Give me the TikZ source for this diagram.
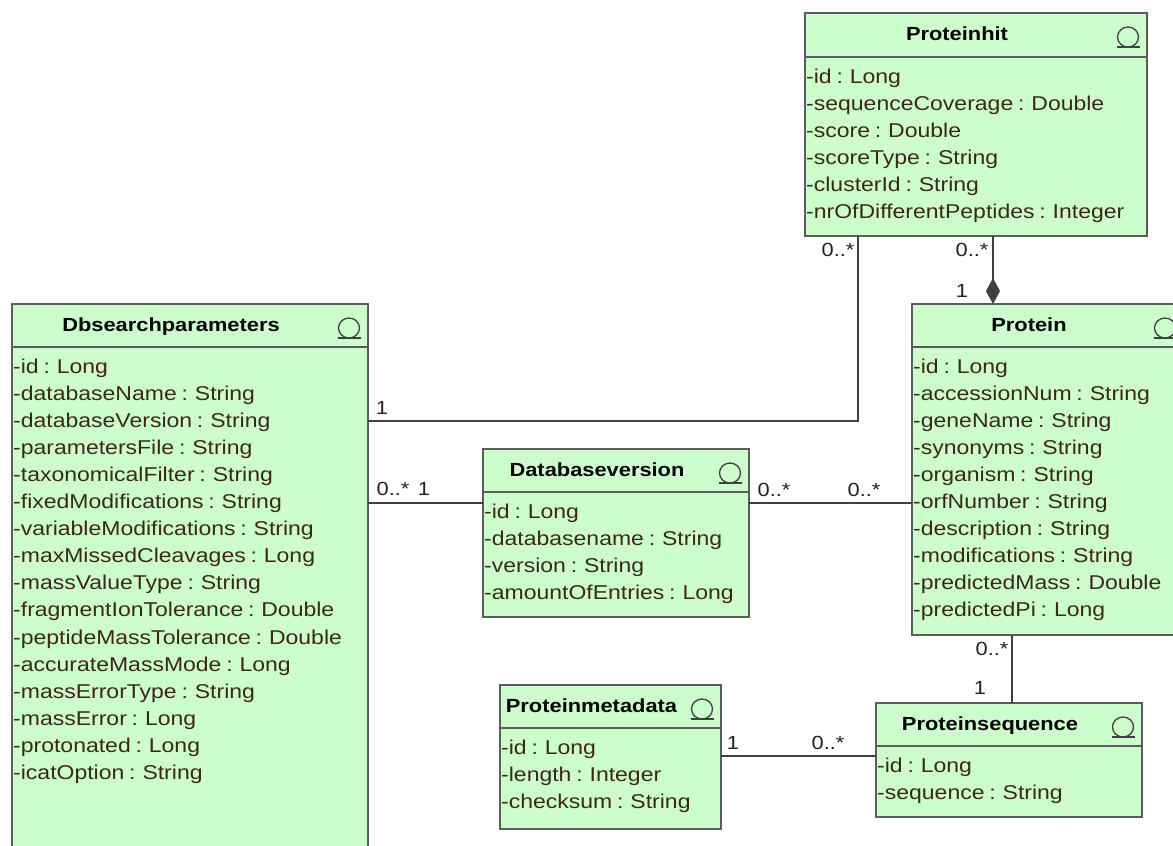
\documentclass[tikz,border=0pt]{standalone}
\usepackage{fontspec}
\setmainfont{Liberation Sans}[FakeStretch=1.15, WordSpace=0.75]
\usetikzlibrary{calc,arrows.meta}

\definecolor{umlfill}{HTML}{CCFFCC}
\definecolor{umlborder}{HTML}{5C5C5C}
\definecolor{umlline}{HTML}{404040}
\definecolor{umltext}{HTML}{3A2818}
\definecolor{multtext}{HTML}{222222}

\tikzset{
  classbox/.style={draw=umlborder, fill=umlfill, line width=1.8pt,
    inner sep=0pt, outer sep=0pt, anchor=north west},
  divider/.style={draw=umlborder, line width=1.6pt},
  classtitle/.style={font=\fontsize{19}{22}\selectfont\bfseries, text=black,
    anchor=base, inner sep=0pt},
  attr/.style={font=\fontsize{20}{24}\selectfont, text=umltext,
    anchor=base west, inner sep=0pt},
  mult/.style={font=\fontsize{19}{22}\selectfont, text=multtext, inner sep=0pt},
  assoc/.style={draw=umlline, line width=1.8pt},
  entityicon/.style={draw=umlline, line width=1.3pt},
}

% class box: name, left, top, width, height, header height, title
\newcommand\umlclass[7]{%
  \node[classbox, minimum width=#4pt, minimum height=#5pt] (#1) at (#2,#3) {};
  \draw[divider] ($(#1.north west)+(0,#6)$) -- ($(#1.north east)+(0,#6)$);
  \node[classtitle] (#1-title) at ($(#1.north west)+({(#4-38)/2},27)$) {#7};
  \coordinate (#1-icon) at ($(#1.north east)+(-19,24)$);
  \draw[entityicon] (#1-icon) ellipse[x radius=10.5pt, y radius=10pt];
  \draw[entityicon] ($(#1-icon)+(-11.5,10)$) -- ($(#1-icon)+(11.5,10)$);
}
% attribute list: name, header height, entries
\newcommand\umlattrs[3]{%
  \foreach \a [count=\i] in {#3} {
    \node[attr] (#1-a\i) at ($(#1.north west)+(1,{#2+26+27.1*(\i-1)})$) {\a};
  }
}

\begin{document}
\begin{tikzpicture}[x=1pt, y=-1pt]
  \useasboundingbox (0,0) rectangle (1173,846);
  \fill[white] (0,0) rectangle (1173,846);
  \clip (0,0) rectangle (1173,846);

  % classes
  \umlclass{ph}{805}{13}{342}{223}{44}{Proteinhit}
  \umlattrs{ph}{44}{-id : Long,-sequenceCoverage : Double,-score : Double,
    -scoreType : String,-clusterId : String,-nrOfDifferentPeptides : Integer}

  \umlclass{dbp}{12}{304}{356}{566}{43}{Dbsearchparameters}
  \umlattrs{dbp}{43}{-id : Long,-databaseName : String,-databaseVersion : String,
    -parametersFile : String,-taxonomicalFilter : String,-fixedModifications : String,
    -variableModifications : String,-maxMissedCleavages : Long,-massValueType : String,
    -fragmentIonTolerance : Double,-peptideMassTolerance : Double,-accurateMassMode : Long,
    -massErrorType : String,-massError : Long,-protonated : Long,-icatOption : String}

  \umlclass{dbv}{483}{449}{266}{168}{43}{Databaseversion}
  \umlattrs{dbv}{43}{-id : Long,-databasename : String,-version : String,
    -amountOfEntries : Long}

  \umlclass{prot}{912}{304}{272}{331}{43}{Protein}
  \umlattrs{prot}{43}{-id : Long,-accessionNum : String,-geneName : String,
    -synonyms : String,-organism : String,-orfNumber : String,-description : String,
    -modifications : String,-predictedMass : Double,-predictedPi : Long}

  \umlclass{pmd}{500}{685}{221}{144}{43}{Proteinmetadata}
  \umlattrs{pmd}{43}{-id : Long,-length : Integer,-checksum : String}

  \umlclass{pseq}{876}{703}{266}{114}{43}{Proteinsequence}
  \umlattrs{pseq}{43}{-id : Long,-sequence : String}

  % connector routing points
  \coordinate (bendA) at (858,421);
  \coordinate (compX) at (993,0);
  \coordinate (rowB) at (0,503);
  \coordinate (seqX) at (1012,0);
  \coordinate (rowC) at (0,756);

  % associations
  \draw[assoc] (ph.south -| bendA) -- (bendA) -- (dbp.east |- bendA);
  \draw[assoc, -{Diamond[length=26pt, width=14pt]}] (ph.south -| compX) -- (prot.north -| compX);
  \draw[assoc] (dbp.east |- rowB) -- (dbv.west |- rowB);
  \draw[assoc] (dbv.east |- rowB) -- (prot.west |- rowB);
  \draw[assoc] (prot.south -| seqX) -- (pseq.north -| seqX);
  \draw[assoc] (pmd.east |- rowC) -- (pseq.west |- rowC);

  % multiplicities
  \node[mult] (m1) at (838,250) {0..*};
  \node[mult] (m2) at (382,408) {1};
  \node[mult] (m3) at (972,250) {0..*};
  \node[mult] (m4) at (962,291) {1};
  \node[mult] (m5) at (393,489) {0..*};
  \node[mult] (m6) at (424,489) {1};
  \node[mult] (m7) at (774,490) {0..*};
  \node[mult] (m8) at (864,490) {0..*};
  \node[mult] (m9) at (992,649) {0..*};
  \node[mult] (m10) at (980,688) {1};
  \node[mult] (m11) at (733,743) {1};
  \node[mult] (m12) at (828,743) {0..*};
\end{tikzpicture}
\end{document}
